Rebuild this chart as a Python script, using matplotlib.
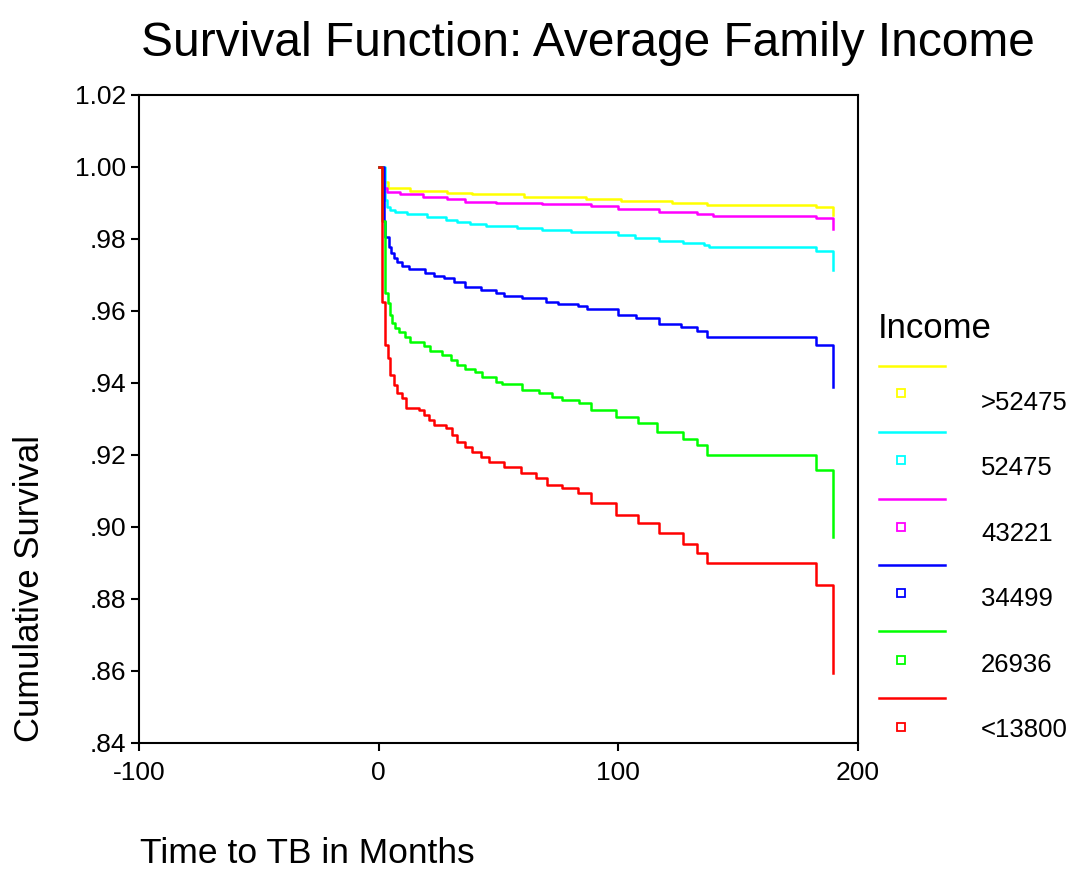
import numpy as np
import matplotlib
matplotlib.use("Agg")
import matplotlib.pyplot as plt
from matplotlib.ticker import FuncFormatter

plt.rcParams['font.family'] = ['Liberation Sans', 'DejaVu Sans']
plt.rcParams['axes.unicode_minus'] = False

# Kaplan-Meier step curves (time in months, survival after the drop)
groups = ['>52475', '52475', '43221', '34499', '26936', '<13800']
colors = ['#FFFF00', '#00FFFF', '#FF00FF', '#0000FF', '#00FF00', '#FF0000']

t_hi = [0, 1.5, 4, 13, 28.5, 39, 60.5, 86.4, 101, 122.6, 137, 182.5, 189.6]
s_hi = [1.0, .9959, .9942, .9934, .9929, .9924, .9918, .9910, .9905, .9899, .9894, .9888, .9866]

t_52 = [0, 2.5, 3.5, 4.9, 7, 11.9, 20.2, 27.9, 32.8, 38.3, 44.6, 57.8, 68.3, 80.4,
        100, 107, 117, 126.8, 135.7, 137.8, 182.5, 189.6]
s_52 = [1.0, .9908, .9890, .9881, .9876, .9869, .9860, .9853, .9846, .9841, .9836, .9830, .9825, .9819,
        .9810, .9804, .9795, .9790, .9782, .9777, .9767, .9714]

t_43 = [0, 1.8, 2.1, 3.5, 9.1, 18.7, 28.6, 36.2, 48.8, 68.3, 88.5, 100, 117, 133, 139.3, 182.5, 189.6]
s_43 = [1.0, .9960, .9941, .9930, .9924, .9916, .9910, .9904, .9899, .9896, .9892, .9883, .9876,
        .9870, .9865, .9859, .9828]

t_34 = [0, 2.2, 2.8, 4.2, 5.3, 6.3, 7.7, 9.8, 12.5, 19.5, 23, 27.2, 31.3, 36.2, 42.5, 48.8, 52.2,
        60, 69.7, 75, 83, 87, 99.8, 107.3, 117, 126, 133, 137, 182.5, 189.6]
s_34 = [1.0, .9850, .9806, .9779, .9760, .9746, .9737, .9725, .9716, .9706, .9697, .9691, .9681,
        .9668, .9658, .9649, .9642, .9635, .9626, .9619, .9614, .9605, .9589, .9581, .9564, .9555,
        .9545, .9529, .9506, .9390]

t_26 = [0, 1.5, 2.8, 3.9, 4.9, 5.6, 6.7, 8.4, 11.1, 13.2, 18.8, 21.6, 26.5, 30, 32.8, 36.2, 40.4,
        43.2, 48.8, 51.6, 60, 66.9, 72.5, 76.6, 83.5, 88.5, 99, 108, 116.3, 126.8, 133, 137, 182.5, 189.6]
s_26 = [1.0, .9850, .9649, .9621, .9589, .9566, .9552, .9543, .9529, .9515, .9503, .9490, .9478,
        .9464, .9450, .9438, .9431, .9416, .9404, .9396, .9381, .9371, .9360, .9353, .9344, .9325,
        .9305, .9288, .9265, .9244, .9228, .9200, .9157, .8972]

t_lo = [0, 1.4, 2.8, 3.9, 4.9, 6.3, 7.7, 9.8, 11.4, 16.7, 18.8, 20.9, 23, 27.9, 30.7, 32.8, 36.2,
        39, 42.5, 46, 52.2, 59.2, 65.5, 70.4, 76.6, 83, 88.5, 99, 108, 117, 126.8, 133, 137, 182.5, 189.6]
s_lo = [1.0, .9626, .9506, .9469, .9422, .9394, .9371, .9358, .9330, .9325, .9311, .9297, .9283,
        .9274, .9256, .9237, .9223, .9209, .9195, .9181, .9168, .9149, .9135, .9117, .9107, .9094,
        .9066, .9033, .9010, .8982, .8954, .8927, .8899, .8840, .8595]

times = [t_hi, t_52, t_43, t_34, t_26, t_lo]
surv = [s_hi, s_52, s_43, s_34, s_26, s_lo]

x_ticks = [-100, 0, 100, 200]
y_ticks = [.84, .86, .88, .90, .92, .94, .96, .98, 1.00, 1.02]

W, H = 1076, 869
fig = plt.figure(figsize=(W / 100, H / 100), dpi=100)
ax = fig.add_axes([139 / W, 1 - 743 / H, (858 - 139) / W, (743 - 95) / H])

for t, s, c in zip(times, surv, colors):
    ax.plot(t, s, drawstyle='steps-post', color=c, lw=1.8)

ax.set_xlim(-100, 200)
ax.set_ylim(.84, 1.02)
ax.set_xticks(x_ticks)
ax.set_yticks(y_ticks)


def fmt_y(v, pos):
    txt = '%.2f' % v
    return txt[1:] if txt.startswith('0') else txt


ax.yaxis.set_major_formatter(FuncFormatter(fmt_y))
ax.tick_params(direction='out', length=6, width=1.5, labelsize=19, pad=3, color='black')
ax.tick_params(axis='x', pad=7)
for sp in ax.spines.values():
    sp.set_linewidth(1.5)

# titles and axis labels
fig.text(588 / W, 1 - 56 / H, 'Survival Function: Average Family Income',
         ha='center', va='baseline', fontsize=34.5)
fig.text(140 / W, 1 - 863 / H, 'Time to TB in Months', ha='left', va='baseline', fontsize=25.5)
fig.text(30 / W, 1 - 588 / H, 'Cumulative Survival', rotation=90,
         ha='center', va='center', fontsize=25)

# legend drawn in pixel coordinates
lg = fig.add_axes([0, 0, 1, 1])
lg.set_xlim(0, W)
lg.set_ylim(H, 0)
lg.axis('off')
lg.text(878, 338, 'Income', ha='left', va='baseline', fontsize=25)
for i, (g, c) in enumerate(zip(groups, colors)):
    ly = 366 + i * 66.3
    lg.plot([879, 945], [ly, ly], color=c, lw=1.8)
    lg.plot([900.5], [393.3 + i * 66.7], marker='s', ms=6, mfc='none', mec=c, mew=1.3)
    lg.text(981, 410 + i * 65.4, g, ha='left', va='baseline', fontsize=18.5)

fig.savefig('out.png', dpi=100)
